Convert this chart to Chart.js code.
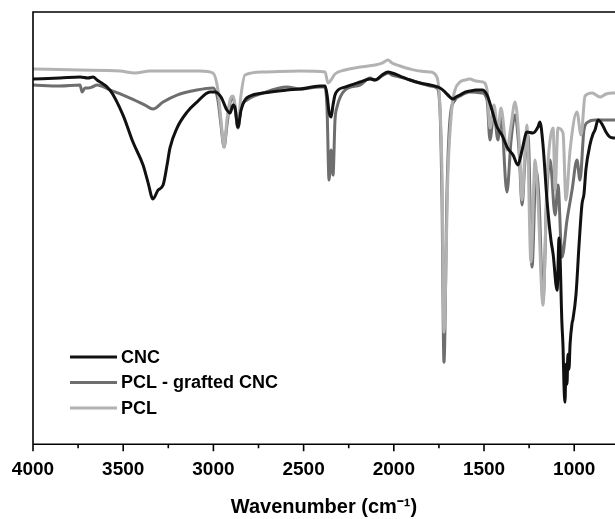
<!DOCTYPE html>
<html>
<head>
<meta charset="utf-8">
<script src="https://cdn.jsdelivr.net/npm/chart.js@4"></script>
<style>
  html, body { margin: 0; padding: 0; background: #fff; }
  #wrap { width: 615px; height: 519px; }
</style>
</head>
<body>
<div id="wrap"><canvas id="ftir"></canvas></div>
<script>
// Spectra (transmittance, arbitrary units)
const cncWavenumber = [4000, 3850, 3739, 3695, 3667, 3645, 3573, 3501, 3446, 3390, 3363, 3335, 3307, 3279, 3257, 3241, 3202, 3146, 3091, 3019, 2991, 2958, 2925, 2908, 2891, 2880, 2864, 2847, 2825, 2797, 2725, 2592, 2520, 2409, 2381, 2370, 2359, 2348, 2337, 2326, 2309, 2271, 2187, 2132, 2104, 2065, 2032, 2010, 1966, 1910, 1855, 1799, 1744, 1716, 1689, 1672, 1656, 1633, 1605, 1578, 1544, 1511, 1483, 1456, 1428, 1400, 1373, 1339, 1312, 1289, 1262, 1229, 1201, 1190, 1173, 1151, 1129, 1117, 1095, 1084, 1068, 1062, 1057, 1051, 1046, 1040, 1035, 1029, 1023, 1012, 1007, 990, 973, 957, 946, 935, 913, 896, 885, 868, 846, 824, 802, 774];
const cncSignal = [365, 366, 367, 366, 367, 364, 354, 329, 302, 279, 262, 245, 254, 259, 279, 296, 316, 332, 342, 352, 352, 347, 334, 331, 339, 336, 317, 334, 344, 348, 351, 354, 355, 358, 358, 349, 332, 327, 339, 349, 354, 357, 362, 365, 364, 369, 372, 371, 368, 364, 361, 359, 356, 352, 347, 345, 347, 349, 352, 353, 354, 354, 349, 334, 317, 309, 297, 289, 279, 294, 312, 311, 317, 322, 299, 244, 204, 190, 154, 206, 120, 97, 60, 42, 80, 60, 90, 75, 100, 121, 125, 150, 200, 240, 250, 275, 299, 310, 314, 324, 320, 312, 307, 306];

const graftWavenumber = [4000, 3850, 3739, 3728, 3712, 3695, 3673, 3645, 3573, 3462, 3379, 3335, 3279, 3202, 3091, 3002, 2975, 2958, 2941, 2925, 2908, 2891, 2880, 2864, 2847, 2814, 2725, 2592, 2520, 2409, 2381, 2370, 2359, 2348, 2337, 2326, 2315, 2271, 2187, 2132, 2104, 2065, 2032, 2010, 1966, 1910, 1855, 1799, 1761, 1744, 1733, 1722, 1705, 1689, 1661, 1633, 1578, 1511, 1483, 1467, 1445, 1423, 1406, 1373, 1350, 1328, 1306, 1289, 1273, 1256, 1234, 1212, 1195, 1173, 1151, 1134, 1106, 1090, 1068, 1040, 1012, 985, 968, 946, 924, 885, 829, 785, 774];
const graftSignal = [359, 358, 359, 352, 356, 356, 357, 359, 354, 346, 339, 335, 342, 349, 354, 356, 344, 319, 297, 319, 341, 347, 336, 316, 336, 344, 351, 357, 355, 357, 357, 334, 264, 294, 269, 324, 337, 354, 359, 366, 364, 368, 371, 369, 367, 364, 361, 358, 356, 334, 244, 82, 254, 324, 344, 348, 352, 351, 344, 304, 332, 304, 329, 252, 304, 329, 294, 239, 284, 309, 177, 274, 244, 144, 254, 284, 229, 259, 187, 224, 254, 284, 264, 314, 322, 324, 324, 324, 324];

const pclWavenumber = [4000, 3739, 3518, 3435, 3351, 3074, 3002, 2975, 2958, 2941, 2925, 2908, 2891, 2880, 2864, 2847, 2825, 2725, 2520, 2381, 2365, 2348, 2326, 2271, 2187, 2104, 2065, 2032, 2010, 1966, 1910, 1855, 1799, 1761, 1744, 1733, 1722, 1700, 1678, 1661, 1633, 1605, 1578, 1544, 1506, 1483, 1467, 1445, 1423, 1406, 1373, 1350, 1328, 1306, 1289, 1273, 1262, 1240, 1217, 1201, 1173, 1151, 1134, 1117, 1106, 1090, 1062, 1046, 1023, 985, 962, 940, 901, 857, 824, 785, 774];
const pclSignal = [375, 374, 373, 371, 373, 373, 371, 354, 324, 297, 324, 344, 348, 339, 319, 349, 369, 372, 373, 372, 361, 364, 370, 374, 377, 379, 381, 384, 381, 378, 375, 373, 372, 367, 337, 271, 112, 271, 337, 354, 362, 364, 365, 363, 362, 354, 316, 339, 314, 336, 294, 319, 342, 304, 244, 294, 319, 182, 284, 244, 139, 264, 304, 316, 254, 316, 311, 244, 294, 332, 309, 348, 351, 347, 350, 351, 351];

const seriesLabels = ['CNC', 'PCL - grafted CNC', 'PCL'];
const seriesColors = ['#111111', '#6e6e6e', '#b2b2b2'];
const majorTicks = [1000, 1500, 2000, 2500, 3000, 3500, 4000];
const minorTicks = [1250, 1750, 2250, 2750, 3250, 3750];

function toPoints(xs, ys) {
    return xs.map((x, i) => ({ x: x, y: ys[i] }));
}

// frame, tick marks and legend drawn on top of the chart area
const framePlugin = {
    id: 'frame',
    afterDatasetsDraw(chart) {
        const { ctx, chartArea: a, scales: { x } } = chart;
        ctx.save();
        ctx.strokeStyle = '#000';
        ctx.lineWidth = 1.6;
        ctx.beginPath();
        ctx.moveTo(a.left, a.bottom);
        ctx.lineTo(a.left, a.top);
        ctx.lineTo(a.right, a.top);
        ctx.moveTo(a.left, a.bottom);
        ctx.lineTo(a.right, a.bottom);
        x.ticks.forEach(t => {
            const px = x.getPixelForValue(t.value);
            const len = majorTicks.includes(t.value) ? 7 : 4;
            ctx.moveTo(px, a.bottom);
            ctx.lineTo(px, a.bottom + len);
        });
        ctx.stroke();

        // legend
        const lx = a.left + 37;
        const ly = a.top + 345;
        ctx.font = 'bold 18px "Liberation Sans", Arial, sans-serif';
        ctx.textBaseline = 'middle';
        chart.data.datasets.forEach((ds, i) => {
            const y = ly + i * 25.5;
            ctx.strokeStyle = ds.borderColor;
            ctx.lineWidth = 3;
            ctx.beginPath();
            ctx.moveTo(lx, y);
            ctx.lineTo(lx + 47, y);
            ctx.stroke();
            ctx.fillStyle = '#000';
            ctx.fillText(ds.label, lx + 51, y + 1);
        });
        ctx.restore();
    }
};

const ctx = document.getElementById('ftir').getContext('2d');

new Chart(ctx, {
    type: 'line',
    data: {
        datasets: [
            { label: seriesLabels[0], data: toPoints(cncWavenumber, cncSignal), borderColor: seriesColors[0], order: 0 },
            { label: seriesLabels[1], data: toPoints(graftWavenumber, graftSignal), borderColor: seriesColors[1], order: 2 },
            { label: seriesLabels[2], data: toPoints(pclWavenumber, pclSignal), borderColor: seriesColors[2], order: 1 }
        ]
    },
    options: {
        responsive: true,
        maintainAspectRatio: false,
        animation: false,
        events: [],
        datasets: {
            line: {
                borderWidth: 3,
                pointRadius: 0,
                fill: false,
                cubicInterpolationMode: 'monotone'
            }
        },
        layout: { padding: { left: 33, top: 12, right: 0, bottom: 0 } },
        scales: {
            x: {
                type: 'linear',
                reverse: true,
                min: 774,
                max: 4000,
                afterBuildTicks: (scale) => {
                    scale.ticks = majorTicks.concat(minorTicks).sort((a, b) => a - b).map(v => ({ value: v }));
                },
                grid: { display: false, drawTicks: false },
                border: { display: false },
                ticks: {
                    padding: 14,
                    color: '#000',
                    autoSkip: false,
                    maxRotation: 0,
                    minRotation: 0,
                    font: { family: '"Liberation Sans", Arial, sans-serif', size: 19, weight: 'bold' },
                    callback: (v) => majorTicks.includes(v) ? String(v) : ''
                },
                title: {
                    display: true,
                    text: 'Wavenumber (cm\u207B\u00B9)',
                    color: '#000',
                    font: { family: '"Liberation Sans", Arial, sans-serif', size: 20, weight: 'bold' },
                    padding: { top: 0, bottom: 0 }
                }
            },
            y: {
                display: false,
                min: 0,
                max: 432
            }
        },
        plugins: {
            legend: { display: false },
            tooltip: { enabled: false }
        }
    },
    plugins: [framePlugin]
});
</script>
</body>
</html>
